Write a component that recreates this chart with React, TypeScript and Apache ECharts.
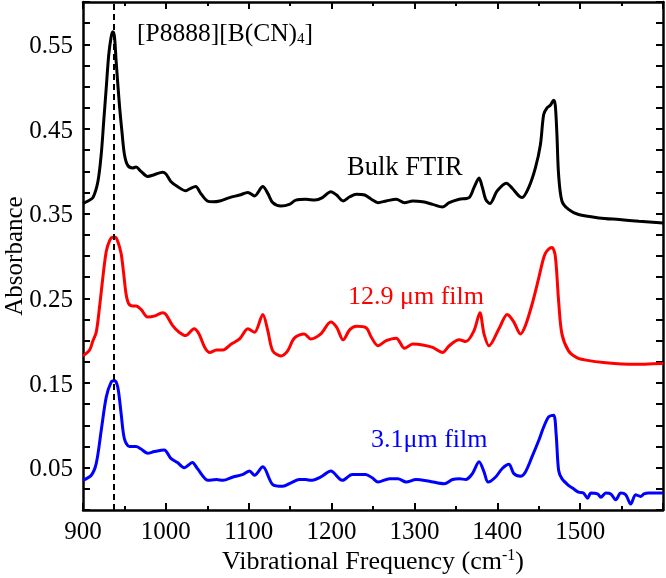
import React, { useEffect, useRef } from "react";
import * as echarts from "echarts";

const bulkData: [number, number][] = [
  [900, 0.362], [906, 0.365], [912, 0.369], [918, 0.388], [922, 0.42], [925, 0.459], [928, 0.498], [931, 0.537],
  [934, 0.559], [936, 0.565], [938, 0.559], [940, 0.53], [944, 0.478], [947, 0.447], [950, 0.42], [954, 0.407],
  [960, 0.404], [964, 0.405], [970, 0.4], [978, 0.394], [986, 0.396], [996, 0.399], [1000, 0.397], [1006, 0.388],
  [1014, 0.382], [1024, 0.377], [1030, 0.38], [1036, 0.382], [1042, 0.374], [1050, 0.365], [1057, 0.364],
  [1065, 0.365], [1077, 0.369], [1089, 0.372], [1099, 0.375], [1107, 0.371], [1117, 0.382], [1123, 0.374],
  [1129, 0.363], [1139, 0.359], [1149, 0.361], [1157, 0.366], [1169, 0.367], [1180, 0.366], [1189, 0.369],
  [1199, 0.376], [1206, 0.372], [1214, 0.365], [1222, 0.37], [1230, 0.373], [1240, 0.372], [1248, 0.367],
  [1256, 0.363], [1266, 0.365], [1278, 0.367], [1288, 0.363], [1298, 0.365], [1310, 0.364], [1322, 0.361],
  [1334, 0.358], [1342, 0.363], [1354, 0.367], [1366, 0.369], [1372, 0.381], [1378, 0.392], [1382, 0.381],
  [1386, 0.367], [1391, 0.362], [1400, 0.377], [1411, 0.386], [1418, 0.38], [1426, 0.371], [1430, 0.369],
  [1438, 0.381], [1446, 0.404], [1452, 0.431], [1456, 0.467], [1460, 0.475], [1464, 0.478], [1468, 0.484],
  [1470, 0.478], [1472, 0.443], [1474, 0.396], [1478, 0.365], [1486, 0.355], [1498, 0.349], [1523, 0.345],
  [1547, 0.343], [1571, 0.341], [1600, 0.339],
];

const film129Data: [number, number][] = [
  [900, 0.182], [908, 0.189], [912, 0.2], [916, 0.21], [920, 0.24], [924, 0.275], [928, 0.305], [932, 0.318],
  [936, 0.322], [939, 0.322], [942, 0.317], [946, 0.303], [949, 0.28], [952, 0.255], [955, 0.244], [960, 0.241],
  [964, 0.241], [970, 0.237], [978, 0.228], [986, 0.229], [996, 0.233], [1000, 0.231], [1008, 0.218],
  [1016, 0.21], [1024, 0.206], [1034, 0.214], [1040, 0.208], [1047, 0.192], [1053, 0.186], [1061, 0.189],
  [1069, 0.189], [1079, 0.196], [1089, 0.202], [1099, 0.214], [1107, 0.21], [1117, 0.231], [1123, 0.212],
  [1129, 0.188], [1139, 0.182], [1147, 0.188], [1155, 0.203], [1167, 0.208], [1175, 0.202], [1187, 0.208],
  [1199, 0.222], [1206, 0.216], [1214, 0.201], [1222, 0.213], [1230, 0.217], [1242, 0.215], [1248, 0.204],
  [1256, 0.194], [1266, 0.2], [1278, 0.203], [1288, 0.191], [1298, 0.196], [1310, 0.195], [1322, 0.192],
  [1334, 0.186], [1342, 0.194], [1354, 0.201], [1362, 0.199], [1372, 0.212], [1379, 0.233], [1384, 0.208],
  [1390, 0.194], [1402, 0.214], [1412, 0.231], [1420, 0.222], [1428, 0.208], [1434, 0.218], [1442, 0.243],
  [1450, 0.274], [1456, 0.298], [1460, 0.306], [1466, 0.31], [1470, 0.3], [1474, 0.247], [1478, 0.208],
  [1486, 0.188], [1496, 0.18], [1507, 0.177], [1531, 0.174], [1563, 0.172], [1600, 0.173],
];

const film31Data: [number, number][] = [
  [900, 0.035], [910, 0.041], [916, 0.055], [922, 0.094], [928, 0.133], [934, 0.151], [938, 0.153], [942, 0.145],
  [946, 0.114], [950, 0.084], [956, 0.075], [964, 0.075], [970, 0.072], [978, 0.067], [986, 0.069], [998, 0.071],
  [1006, 0.061], [1014, 0.056], [1022, 0.05], [1032, 0.056], [1038, 0.049], [1051, 0.035], [1061, 0.036],
  [1069, 0.035], [1081, 0.039], [1093, 0.042], [1101, 0.046], [1107, 0.041], [1117, 0.051], [1129, 0.03],
  [1141, 0.028], [1151, 0.032], [1161, 0.036], [1169, 0.036], [1175, 0.035], [1187, 0.039], [1199, 0.046],
  [1213, 0.035], [1225, 0.042], [1241, 0.042], [1249, 0.038], [1256, 0.033], [1270, 0.037], [1280, 0.037],
  [1290, 0.033], [1302, 0.036], [1318, 0.034], [1336, 0.031], [1346, 0.036], [1354, 0.037], [1362, 0.036],
  [1370, 0.043], [1378, 0.057], [1384, 0.045], [1389, 0.033], [1398, 0.039], [1406, 0.049], [1414, 0.054],
  [1420, 0.043], [1428, 0.04], [1434, 0.045], [1442, 0.063], [1450, 0.082], [1456, 0.098], [1462, 0.11],
  [1468, 0.112], [1471, 0.09], [1474, 0.047], [1478, 0.037], [1486, 0.029], [1492, 0.025], [1498, 0.021],
  [1504, 0.02], [1509, 0.014], [1513, 0.02], [1521, 0.019], [1525, 0.015], [1531, 0.02], [1537, 0.019],
  [1543, 0.012], [1549, 0.02], [1555, 0.018], [1561, 0.007], [1567, 0.018], [1573, 0.016], [1577, 0.019],
  [1583, 0.02], [1600, 0.02],
];

const dashedLineX = 937;

const FONT = "'Liberation Serif', 'DejaVu Serif', serif";

export default function App() {
  const ref = useRef<HTMLDivElement>(null);
  useEffect(() => {
    if (!ref.current) return;
    const chart = echarts.init(ref.current, null, { renderer: "svg" });
    const axisLine = { show: true, onZero: false, lineStyle: { color: "#000", width: 2.5 } };
    const xTick = { show: true, inside: true, length: 7, lineStyle: { color: "#000", width: 2 } };
    const xMinor = { show: true, splitNumber: 2, length: 4, lineStyle: { color: "#000", width: 2 } };
    const yTick = { show: true, inside: true, length: 7, lineStyle: { color: "#000", width: 2 } };
    const yMinor = { show: true, splitNumber: 2, length: 7, lineStyle: { color: "#000", width: 2 } };
    const lineSeries = (name: string, data: [number, number][], color: string) => ({
      type: "line",
      name,
      data,
      showSymbol: false,
      symbol: "none",
      smooth: 0.3,
      lineStyle: { color, width: 3 },
      xAxisIndex: 0,
      yAxisIndex: 0,
    });
    const option: any = {
      animation: false,
      grid: { left: 83, right: 3, top: 2, bottom: 68, containLabel: false, outerBoundsMode: "none" },
      xAxis: [
        {
          type: "value",
          min: 900,
          max: 1600,
          interval: 100,
          position: "bottom",
          axisLine,
          axisTick: xTick,
          minorTick: xMinor,
          splitLine: { show: false },
          minorSplitLine: { show: false },
          axisLabel: {
            fontFamily: FONT,
            fontSize: 25,
            color: "#000",
            margin: 8,
            formatter: (v: number) => (v === 1600 ? "" : String(v)),
          },
          name: "Vibrational Frequency (cm{sup|-1})",
          nameLocation: "middle",
          nameGap: 36,
          nameMoveOverlap: false,
          nameTextStyle: {
            fontFamily: FONT,
            fontSize: 26,
            color: "#000",
            rich: {
              sup: { fontFamily: FONT, fontSize: 16, color: "#000", padding: [0, 0, 12, 0] },
            },
          },
        },
        {
          type: "value",
          min: 900,
          max: 1600,
          interval: 100,
          position: "top",
          axisLine,
          axisTick: xTick,
          minorTick: xMinor,
          splitLine: { show: false },
          axisLabel: { show: false },
        },
      ],
      yAxis: [
        {
          type: "value",
          min: 0,
          max: 0.6,
          interval: 0.05,
          position: "left",
          axisLine,
          axisTick: yTick,
          minorTick: yMinor,
          splitLine: { show: false },
          minorSplitLine: { show: false },
          axisLabel: {
            fontFamily: FONT,
            fontSize: 25,
            color: "#000",
            margin: 10,
            formatter: (v: number) => (Math.round(v * 100) % 10 === 5 ? v.toFixed(2) : ""),
          },
          name: "Absorbance",
          nameLocation: "middle",
          nameGap: 57,
          nameMoveOverlap: false,
          nameTextStyle: { fontFamily: FONT, fontSize: 25, color: "#000" },
        },
        {
          type: "value",
          min: 0,
          max: 0.6,
          interval: 0.05,
          position: "right",
          axisLine,
          axisTick: yTick,
          minorTick: yMinor,
          splitLine: { show: false },
          axisLabel: { show: false },
        },
      ],
      series: [
        lineSeries("Bulk FTIR", bulkData, "#000000"),
        lineSeries("12.9 μm film", film129Data, "#ff0000"),
        {
          ...lineSeries("3.1μm film", film31Data, "#0000ff"),
          markLine: {
            silent: true,
            symbol: ["none", "none"],
            label: { show: false },
            lineStyle: { color: "#000", width: 2, type: [6, 4] },
            data: [{ xAxis: dashedLineX }],
          },
        },
      ],
      graphic: [
        {
          type: "text",
          x: 137,
          y: 32,
          style: {
            text: "{a|[P8888][B(CN)}{s|4}{a|]}",
            verticalAlign: "middle",
            rich: {
              a: { fontFamily: FONT, fontSize: 25.5, fill: "#000" },
              s: { fontFamily: FONT, fontSize: 15, fill: "#000", padding: [12, 0, 0, 0] },
            },
          },
        },
        {
          type: "text",
          x: 347,
          y: 166,
          style: { text: "Bulk FTIR", fontFamily: FONT, fontSize: 26.5, fill: "#000", verticalAlign: "middle" },
        },
        {
          type: "text",
          x: 348,
          y: 295,
          style: { text: "12.9 μm film", fontFamily: FONT, fontSize: 26, fill: "#ff0000", verticalAlign: "middle" },
        },
        {
          type: "text",
          x: 371,
          y: 438,
          style: { text: "3.1μm film", fontFamily: FONT, fontSize: 26, fill: "#0000ff", verticalAlign: "middle" },
        },
      ],
    };
    chart.setOption(option);
    return () => chart.dispose();
  }, []);
  return <div ref={ref} style={{ position: "fixed", left: 0, top: 0, width: 666, height: 578 }} />;
}
